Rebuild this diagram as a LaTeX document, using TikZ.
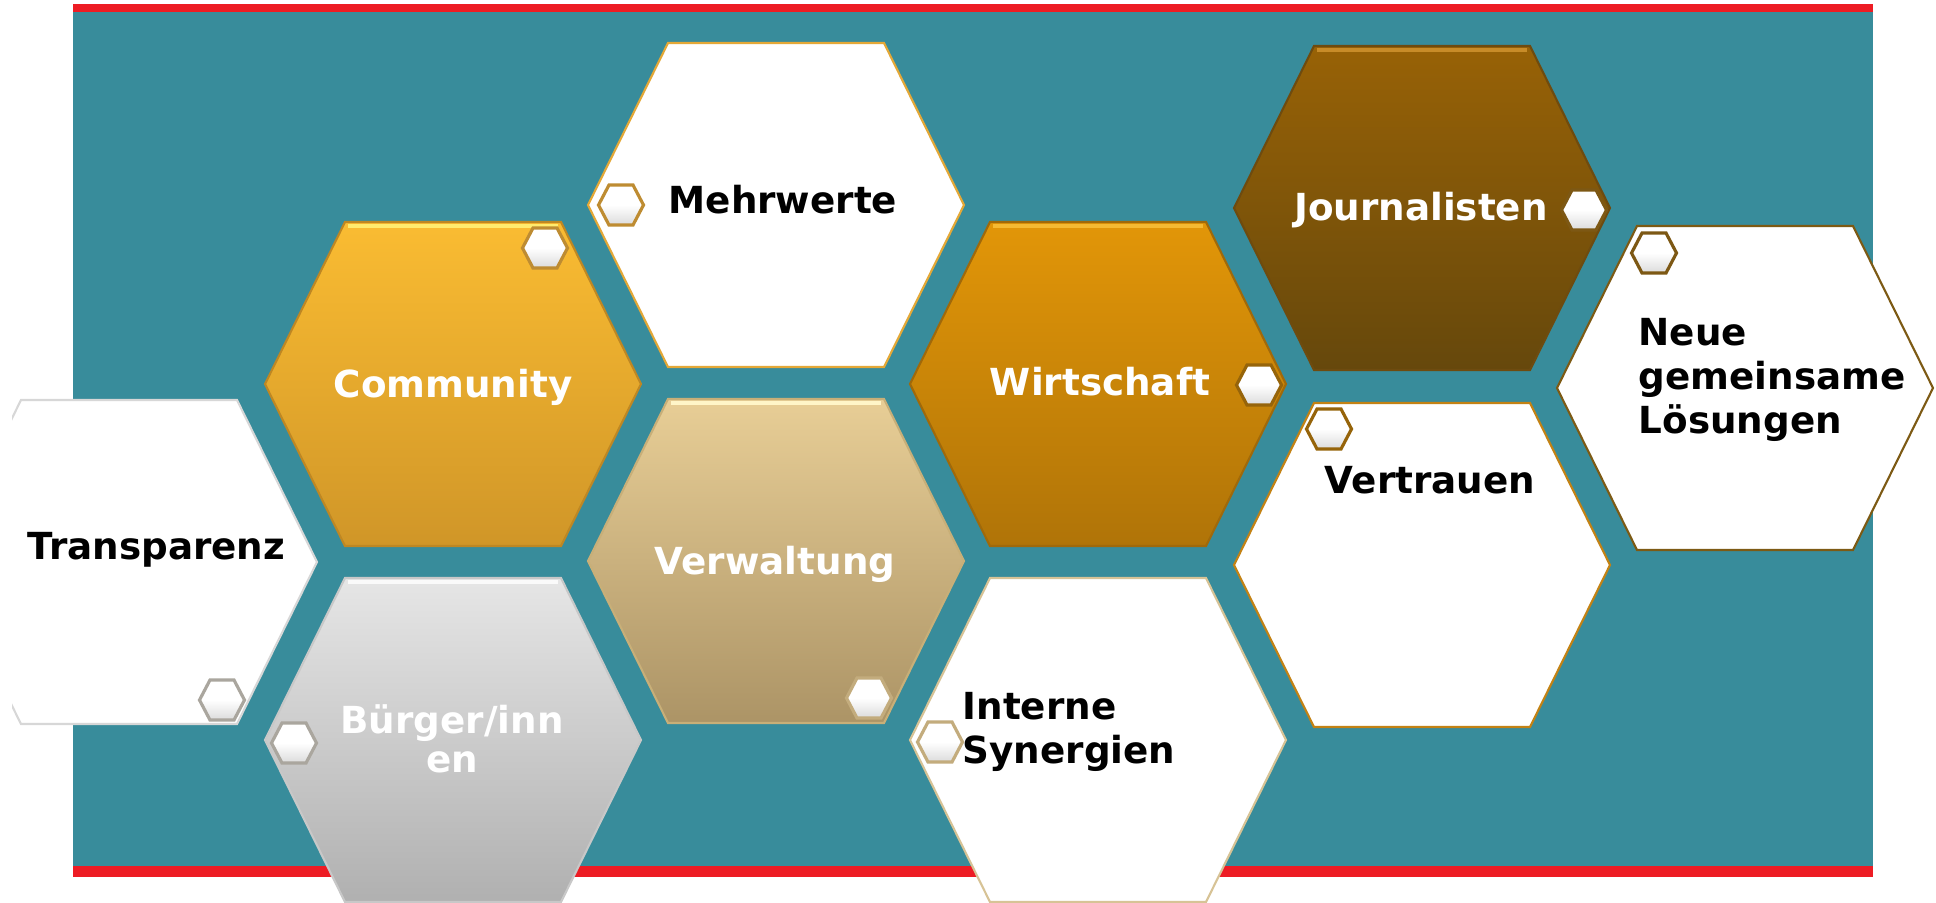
\documentclass[tikz,border=0pt]{standalone}
\usepackage{fontspec}
\setmainfont{DejaVu Sans}
\definecolor{tealbg}{RGB}{56,140,155}
\definecolor{redbar}{RGB}{237,28,36}
\definecolor{commTop}{RGB}{250,188,50}
\definecolor{commBot}{RGB}{208,150,40}
\definecolor{commLine}{RGB}{190,135,35}
\definecolor{commHi}{RGB}{255,235,110}
\definecolor{verwTop}{RGB}{232,206,150}
\definecolor{verwBot}{RGB}{172,148,102}
\definecolor{verwLine}{RGB}{200,175,120}
\definecolor{verwHi}{RGB}{255,245,200}
\definecolor{wirtTop}{RGB}{226,150,8}
\definecolor{wirtBot}{RGB}{176,116,8}
\definecolor{wirtLine}{RGB}{160,105,10}
\definecolor{wirtHi}{RGB}{245,185,50}
\definecolor{jourTop}{RGB}{152,98,6}
\definecolor{jourBot}{RGB}{102,72,12}
\definecolor{jourLine}{RGB}{110,75,15}
\definecolor{jourHi}{RGB}{200,140,40}
\definecolor{buerTop}{RGB}{230,230,230}
\definecolor{buerBot}{RGB}{176,176,176}
\definecolor{buerLine}{RGB}{200,200,200}
\definecolor{buerHi}{RGB}{250,250,250}
\definecolor{mehrLine}{RGB}{228,168,55}
\definecolor{intLine}{RGB}{215,195,150}
\definecolor{vertLine}{RGB}{195,130,20}
\definecolor{neueLine}{RGB}{125,90,20}
\definecolor{tranLine}{RGB}{215,215,215}
\definecolor{mkGold}{RGB}{190,140,50}
\definecolor{mkBrown}{RGB}{125,88,20}
\definecolor{mkOrange}{RGB}{150,100,10}
\definecolor{mkGrey}{RGB}{170,166,158}
\definecolor{mkTan}{RGB}{195,172,125}
\tikzset{
  whitehex/.style={fill=white, line width=0.6pt},
  colhex/.style={line width=0.6pt},
  minihexstyle/.style={top color=white, bottom color=black!14, middle color=white, line width=0.9pt},
  lbl/.style={font=\bfseries\fontsize{10.6}{12}\selectfont, inner sep=0pt},
  lblw/.style={lbl, text=white},
  lblb/.style={lbl, text=black},
}
\newcommand{\hexat}[3]{\path[#1] ({#2-188},#3) -- ({#2-108},{#3-162}) -- ({#2+108},{#3-162}) -- ({#2+188},#3) -- ({#2+108},{#3+162}) -- ({#2-108},{#3+162}) -- cycle;}
\newcommand{\tophl}[3]{\draw[#1, line width=1.4pt] ({#2-105},{#3-158}) -- ({#2+105},{#3-158});}
\newcommand{\minihex}[3]{\path[minihexstyle, draw=#1] ({#2-22.5},#3) -- ({#2-12},{#3-20}) -- ({#2+12},{#3-20}) -- ({#2+22.5},#3) -- ({#2+12},{#3+20}) -- ({#2-12},{#3+20}) -- cycle;}
\begin{document}
\begin{tikzpicture}[x=0.01cm,y=-0.01cm]
\useasboundingbox (0,0) rectangle (1936,902);
% background
\fill[tealbg] (73,11) rectangle (1873,867);
\fill[redbar] (73,4) rectangle (1873,12);
\fill[redbar] (73,866) rectangle (1873,877);
% Transparenz (clipped at left)
\begin{scope}
  \clip (12,0) rectangle (1936,902);
  \hexat{whitehex, draw=tranLine}{129}{562}
\end{scope}
% coloured hexagons
\hexat{colhex, top color=commTop, bottom color=commBot, draw=commLine}{453}{384}
\tophl{commHi}{453}{384}
\hexat{colhex, top color=buerTop, bottom color=buerBot, draw=buerLine}{453}{740}
\tophl{buerHi}{453}{740}
\hexat{colhex, top color=verwTop, bottom color=verwBot, draw=verwLine}{776}{561}
\tophl{verwHi}{776}{561}
\hexat{colhex, top color=wirtTop, bottom color=wirtBot, draw=wirtLine}{1098}{384}
\tophl{wirtHi}{1098}{384}
\hexat{colhex, top color=jourTop, bottom color=jourBot, draw=jourLine}{1422}{208}
\tophl{jourHi}{1422}{208}
% white hexagons
\hexat{whitehex, draw=mehrLine}{776}{205}
\hexat{whitehex, draw=intLine}{1098}{740}
\hexat{whitehex, draw=vertLine}{1422}{565}
\hexat{whitehex, draw=neueLine}{1745}{388}
% small markers
\minihex{mkGold}{621}{205}
\minihex{mkGold}{545}{248}
\minihex{mkOrange}{1259}{385}
\minihex{mkBrown}{1584}{210}
\minihex{mkBrown}{1654}{253}
\minihex{mkOrange}{1329}{429}
\minihex{mkGrey}{222}{700}
\minihex{mkGrey}{294}{743}
\minihex{mkTan}{869}{698}
\minihex{mkTan}{940}{742}
% labels
\node[lblb, anchor=base west] (mehrwerte) at (668,213) {Mehrwerte};
\node[lblw, anchor=base] (community) at (453,397) {Community};
\node[lblb, anchor=base west] (transparenz) at (27,559) {Transparenz};
\node[lblw, anchor=base] (verwaltung) at (775,574) {Verwaltung};
\node[lblw, anchor=base] (wirtschaft) at (1100,395) {Wirtschaft};
\node[lblw, anchor=base] (journalisten) at (1421,220) {Journalisten};
\node[lblw, anchor=base] (buerger1) at (452,733) {Bürger/inn};
\node[lblw, anchor=base] (buerger2) at (452,772) {en};
\node[lblb, anchor=base west] (interne1) at (962,719) {Interne};
\node[lblb, anchor=base west] (interne2) at (962,763) {Synergien};
\node[lblb, anchor=base] (vertrauen) at (1430,493) {Vertrauen};
\node[lblb, anchor=base west] (neue1) at (1638,345) {Neue};
\node[lblb, anchor=base west] (neue2) at (1638,389) {gemeinsame};
\node[lblb, anchor=base west] (neue3) at (1638,433) {Lösungen};
\end{tikzpicture}
\end{document}
